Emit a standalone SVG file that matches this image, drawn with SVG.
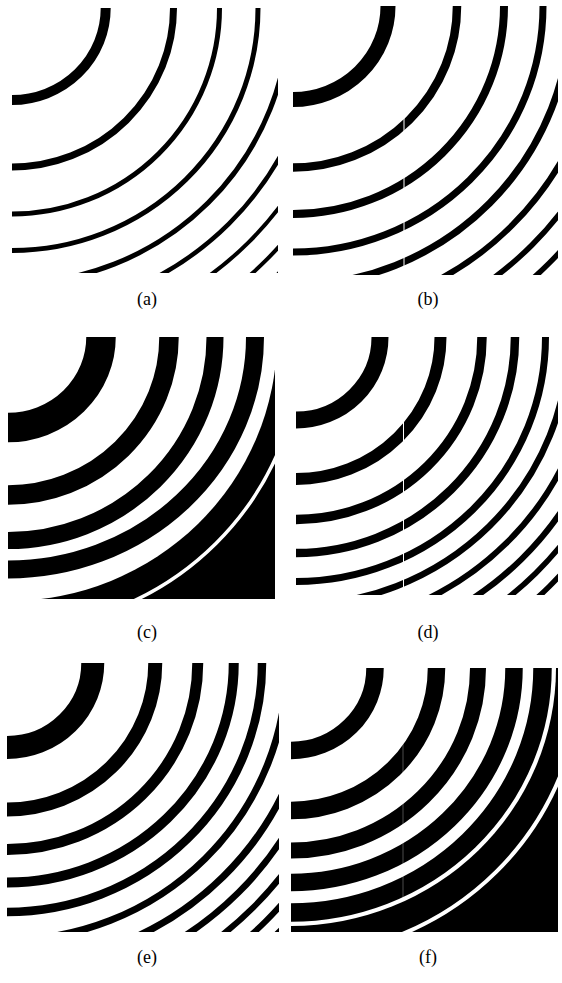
<svg xmlns="http://www.w3.org/2000/svg" width="562" height="983" viewBox="0 0 562 983">
<style>
.r{fill:none;stroke:#000}
.gap{fill:none;stroke:#fff}
.lbl{font-family:"Liberation Serif","Times New Roman",serif;font-size:18px;fill:#000;text-anchor:middle}
.seam{stroke:#fff;stroke-width:1}
</style>
<defs>
<clipPath id="ca"><rect x="12" y="8" width="266" height="265"/></clipPath>
<clipPath id="cb"><rect x="293" y="6" width="265" height="269"/></clipPath>
<clipPath id="cc"><rect x="8" y="337" width="267" height="262"/></clipPath>
<clipPath id="cd"><rect x="296" y="337" width="262" height="258"/></clipPath>
<clipPath id="ce"><rect x="7" y="663" width="272" height="269"/></clipPath>
<clipPath id="cf"><rect x="291" y="668" width="267" height="264"/></clipPath>
</defs>
<rect width="562" height="983" fill="#fff"/>

<g id="panel-a" clip-path="url(#ca)">
<ellipse class="r" cx="12" cy="8" rx="93.7" ry="92" stroke-width="10"/>
<ellipse class="r" cx="12" cy="8" rx="161.5" ry="159" stroke-width="7"/>
<ellipse class="r" cx="12" cy="8" rx="207.5" ry="206" stroke-width="5"/>
<ellipse class="r" cx="12" cy="8" rx="246" ry="242.5" stroke-width="5"/>
<ellipse class="r" cx="12" cy="8" rx="277.5" ry="275.5" stroke-width="5"/>
<ellipse class="r" cx="12" cy="8" rx="307" ry="305" stroke-width="4.5"/>
<ellipse class="r" cx="12" cy="8" rx="334.5" ry="331.5" stroke-width="4"/>
<ellipse class="r" cx="12" cy="8" rx="359" ry="357" stroke-width="4"/>
<ellipse class="r" cx="12" cy="8" rx="376" ry="376" stroke-width="3.5"/>
</g>

<g id="panel-b" clip-path="url(#cb)">
<ellipse class="r" cx="293" cy="6" rx="95" ry="93.5" stroke-width="15"/>
<ellipse class="r" cx="293" cy="6" rx="164" ry="161.5" stroke-width="8.5"/>
<ellipse class="r" cx="293" cy="6" rx="211" ry="208" stroke-width="8"/>
<ellipse class="r" cx="293" cy="6" rx="250" ry="246" stroke-width="7"/>
<ellipse class="r" cx="293" cy="6" rx="278" ry="279" stroke-width="7"/>
<ellipse class="r" cx="293" cy="6" rx="310" ry="310" stroke-width="6"/>
<ellipse class="r" cx="293" cy="6" rx="338" ry="338" stroke-width="5.5"/>
<ellipse class="r" cx="293" cy="6" rx="363" ry="363" stroke-width="5.5"/>
<line class="seam" x1="404" y1="6" x2="404" y2="275"/>
</g>

<g id="panel-c" clip-path="url(#cc)">
<rect x="8" y="337" width="267" height="262" fill="#000"/>
<ellipse cx="8" cy="337" rx="269" ry="264" fill="#fff"/>
<ellipse class="r" cx="8" cy="337" rx="93" ry="90.5" stroke-width="29.5"/>
<ellipse class="r" cx="8" cy="337" rx="161" ry="158" stroke-width="19.5"/>
<ellipse class="r" cx="8" cy="337" rx="207" ry="203.5" stroke-width="17"/>
<ellipse class="r" cx="8" cy="337" rx="247" ry="232.5" stroke-width="18"/>
<ellipse class="gap" cx="8" cy="337" rx="294" ry="292" stroke-width="3.5"/>
</g>

<g id="panel-d" clip-path="url(#cd)">
<ellipse class="r" cx="296" cy="337" rx="84" ry="83" stroke-width="17"/>
<ellipse class="r" cx="296" cy="337" rx="144.5" ry="142" stroke-width="12"/>
<ellipse class="r" cx="296" cy="337" rx="186" ry="182.5" stroke-width="9.5"/>
<ellipse class="r" cx="296" cy="337" rx="219" ry="216" stroke-width="8.5"/>
<ellipse class="r" cx="296" cy="337" rx="249.5" ry="244.5" stroke-width="7"/>
<ellipse class="r" cx="296" cy="337" rx="273" ry="268" stroke-width="6.5"/>
<ellipse class="r" cx="296" cy="337" rx="297" ry="292" stroke-width="6"/>
<ellipse class="r" cx="296" cy="337" rx="319" ry="314" stroke-width="6"/>
<ellipse class="r" cx="296" cy="337" rx="339" ry="334" stroke-width="5.5"/>
<ellipse class="r" cx="296" cy="337" rx="358" ry="353" stroke-width="5.5"/>
<line class="seam" x1="403.5" y1="337" x2="403.5" y2="595"/>
</g>

<g id="panel-e" clip-path="url(#ce)">
<ellipse class="r" cx="7" cy="663" rx="85.75" ry="84.5" stroke-width="23"/>
<ellipse class="r" cx="7" cy="663" rx="148.25" ry="146.5" stroke-width="14"/>
<ellipse class="r" cx="7" cy="663" rx="190.75" ry="186.5" stroke-width="11"/>
<ellipse class="r" cx="7" cy="663" rx="226.75" ry="219.5" stroke-width="10"/>
<ellipse class="r" cx="7" cy="663" rx="255" ry="249" stroke-width="8.5"/>
<ellipse class="r" cx="7" cy="663" rx="280" ry="277" stroke-width="7"/>
<ellipse class="r" cx="7" cy="663" rx="306" ry="302" stroke-width="7"/>
<ellipse class="r" cx="7" cy="663" rx="327" ry="325" stroke-width="6.5"/>
<ellipse class="r" cx="7" cy="663" rx="348" ry="346" stroke-width="6"/>
<ellipse class="r" cx="7" cy="663" rx="366" ry="365" stroke-width="6"/>
<ellipse class="r" cx="7" cy="663" rx="382" ry="382" stroke-width="5"/>
</g>

<g id="panel-f" clip-path="url(#cf)">
<rect x="291" y="668" width="267" height="264" fill="#000"/>
<ellipse cx="291" cy="668" rx="265" ry="258" fill="#fff"/>
<ellipse class="r" cx="291" cy="668" rx="84" ry="82.5" stroke-width="17.5"/>
<ellipse class="r" cx="291" cy="668" rx="145.5" ry="142.5" stroke-width="17.5"/>
<ellipse class="r" cx="291" cy="668" rx="187" ry="182.5" stroke-width="16"/>
<ellipse class="r" cx="291" cy="668" rx="223" ry="214.5" stroke-width="17.5"/>
<ellipse class="r" cx="291" cy="668" rx="251.5" ry="244.5" stroke-width="18.5"/>
<ellipse class="gap" cx="291" cy="668" rx="290.5" ry="288" stroke-width="4"/>
<line class="seam" x1="403" y1="740" x2="403" y2="900" stroke-width="0.6" stroke-opacity="0.3"/>
</g>

<g id="labels">
<text class="lbl" x="147" y="305">(a)</text>
<text class="lbl" x="428" y="305">(b)</text>
<text class="lbl" x="147" y="638">(c)</text>
<text class="lbl" x="428" y="638">(d)</text>
<text class="lbl" x="147" y="963">(e)</text>
<text class="lbl" x="428" y="963">(f)</text>
</g>
</svg>
